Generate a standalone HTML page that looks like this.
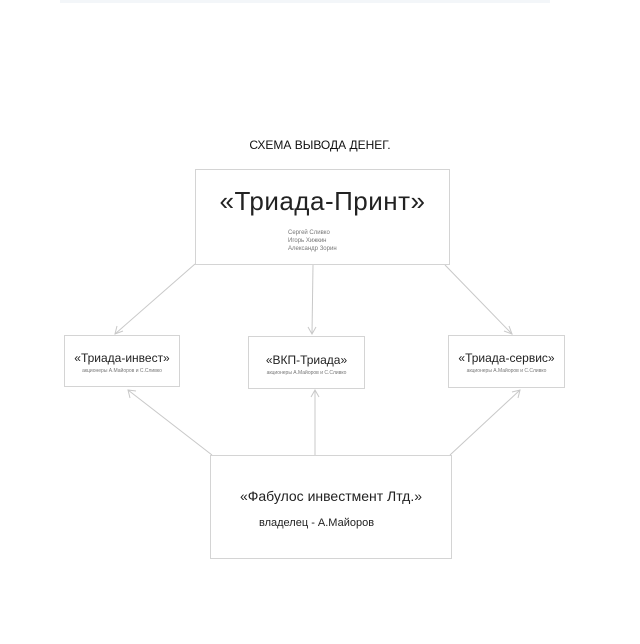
<!DOCTYPE html><html><head><meta charset="utf-8"><style>
body{margin:0;width:640px;height:644px;background:#fff;position:relative;font-family:"Liberation Sans",sans-serif;overflow:hidden}
.b{position:absolute;border:1px solid #d4d4d4;background:#fff;box-sizing:border-box;text-align:center;color:#222}
.t{position:absolute;white-space:nowrap}
.s{font-size:5px;color:#777}
</style></head><body>
<div style="position:absolute;left:60px;top:0;width:490px;height:3px;background:#f3f6f9"></div>
<svg width="640" height="644" style="position:absolute;left:0;top:0">
<g stroke="#c8c8c8" stroke-width="1" fill="none">
<line x1="195" y1="264" x2="115" y2="334"/><polyline points="117,326 115,334 123,331"/>
<line x1="313" y1="265" x2="312" y2="334"/><polyline points="308,327 312,334 316,327"/>
<line x1="445" y1="265" x2="512" y2="334"/><polyline points="504,331 512,334 509,326"/>
<line x1="212" y1="455" x2="128" y2="390"/><polyline points="130,398 128,390 136,391"/>
<line x1="315" y1="455" x2="315" y2="390"/><polyline points="311,397 315,390 319,397"/>
<line x1="450" y1="455" x2="520" y2="390"/><polyline points="512,392 520,390 518,398"/>
</g></svg>
<div class="t" style="left:0;width:640px;top:138px;text-align:center;font-size:12px;color:#111">СХЕМА ВЫВОДА ДЕНЕГ.</div>
<div class="b" style="left:195px;top:169px;width:255px;height:96px">
<div style="font-size:26px;margin-top:16px;letter-spacing:0.5px">«Триада-Принт»</div>
<div class="s" style="text-align:left;margin-left:92px;margin-top:12px;line-height:8px;font-size:6px">Сергей Сливко<br>Игорь Хижкин<br>Александр Зорин</div></div>
<div class="b" style="left:64px;top:335px;width:116px;height:52px"><div style="font-size:12px;margin-top:15px">«Триада-инвест»</div><div class="s" style="margin-top:3px">акционеры А.Майоров и С.Сливко</div></div>
<div class="b" style="left:248px;top:336px;width:117px;height:53px"><div style="font-size:12px;margin-top:16px">«ВКП-Триада»</div><div class="s" style="margin-top:3px">акционеры А.Майоров и С.Сливко</div></div>
<div class="b" style="left:448px;top:335px;width:117px;height:53px"><div style="font-size:12px;margin-top:15px">«Триада-сервис»</div><div class="s" style="margin-top:3px">акционеры А.Майоров и С.Сливко</div></div>
<div class="b" style="left:210px;top:455px;width:242px;height:104px"><div style="font-size:14px;margin-top:32px">«Фабулос инвестмент Лтд.»</div><div style="font-size:11px;margin-top:13px;text-align:left;margin-left:48px">владелец - А.Майоров</div></div>
</body></html>
